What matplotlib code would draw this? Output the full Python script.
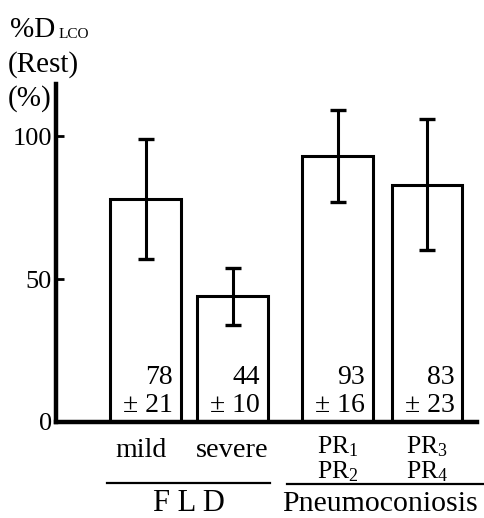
import matplotlib
matplotlib.use("Agg")
import matplotlib.pyplot as plt
from matplotlib import transforms

plt.rcParams['font.family'] = ['Liberation Serif', 'DejaVu Serif']
plt.rcParams['mathtext.fontset'] = 'custom'
plt.rcParams['mathtext.rm'] = 'Liberation Serif'
plt.rcParams['mathtext.it'] = 'Liberation Serif:italic'

# ---- data ----
categories = ["mild", "severe", "PR$_{1}$\nPR$_{2}$", "PR$_{3}$\nPR$_{4}$"]
means = [78, 44, 93, 83]
sds = [21, 10, 16, 23]
groups = ["F L D", "Pneumoconiosis"]
yticks = [0, 50, 100]

# ---- layout ----
W, H = 485, 518
positions = [0.0, 1.0, 2.207, 3.236]
bar_width = 0.81

fig = plt.figure(figsize=(W / 100, H / 100), dpi=100)
ax = fig.add_axes([56 / W, 1 - 422 / H, (477 - 56) / W, (422 - 84) / H])
ax.set_xlim(-1.029, 3.81)
ax.set_ylim(0, 118.2)

ax.bar(positions, means, width=bar_width, color='white', edgecolor='black',
       linewidth=2.2, zorder=2)
ax.errorbar(positions, means, yerr=sds, fmt='none', ecolor='black',
            elinewidth=2.2, capsize=6, capthick=2.4, zorder=3)

for sp in ['top', 'right']:
    ax.spines[sp].set_visible(False)
for sp in ['left', 'bottom']:
    ax.spines[sp].set_linewidth(3.2)
    ax.spines[sp].set_zorder(4)

ax.set_yticks(yticks)
ax.set_yticklabels([str(t) for t in yticks], fontsize=19)
ax.tick_params(axis='y', direction='in', length=6, width=2, pad=3)
ax.set_xticks([])

# value labels inside bars
for x, m, s in zip(positions, means, sds):
    xr = x + bar_width / 2 - 0.09
    ax.text(xr, 15.4, f"{m}", ha='right', va='center', fontsize=20, zorder=5)
    ax.text(xr, 5.6, f"± {s}", ha='right', va='center', fontsize=20, zorder=5)

# category labels below axis (x in data, y in figure pixels)
trans = transforms.blended_transform_factory(ax.transData, fig.transFigure)
def fy(py):
    return 1 - py / H

ax.text(positions[0] - 0.05, fy(457), categories[0], transform=trans,
        ha='center', va='baseline', fontsize=20, clip_on=False)
ax.text(positions[1], fy(457), categories[1], transform=trans,
        ha='center', va='baseline', fontsize=20.5, clip_on=False)
for x, lab in zip(positions[2:], categories[2:]):
    l1, l2 = lab.split("\n")
    ax.text(x, fy(453), l1, transform=trans, ha='center', va='baseline',
            fontsize=18.5, clip_on=False)
    ax.text(x, fy(478), l2, transform=trans, ha='center', va='baseline',
            fontsize=18.5, clip_on=False)

# group lines and labels (figure pixels)
fig.add_artist(plt.Line2D([107 / W, 270 / W], [fy(483), fy(483)],
                          color='black', linewidth=1.6))
fig.add_artist(plt.Line2D([287 / W, 485 / W], [fy(484), fy(484)],
                          color='black', linewidth=1.6))
fig.text(189 / W, fy(511), groups[0], ha='center', va='baseline', fontsize=22)
fig.text(380 / W, fy(511), groups[1], ha='center', va='baseline', fontsize=21.5)

# y-axis label lines
fig.text(10 / W, fy(37), "%D", ha='left', va='baseline', fontsize=21)
fig.text(59 / W, fy(38), "LCO", ha='left', va='baseline', fontsize=11)
fig.text(8 / W, fy(72), "(Rest)", ha='left', va='baseline', fontsize=21)
fig.text(8 / W, fy(106), "(%)", ha='left', va='baseline', fontsize=21)

fig.savefig("out.png", dpi=100)
